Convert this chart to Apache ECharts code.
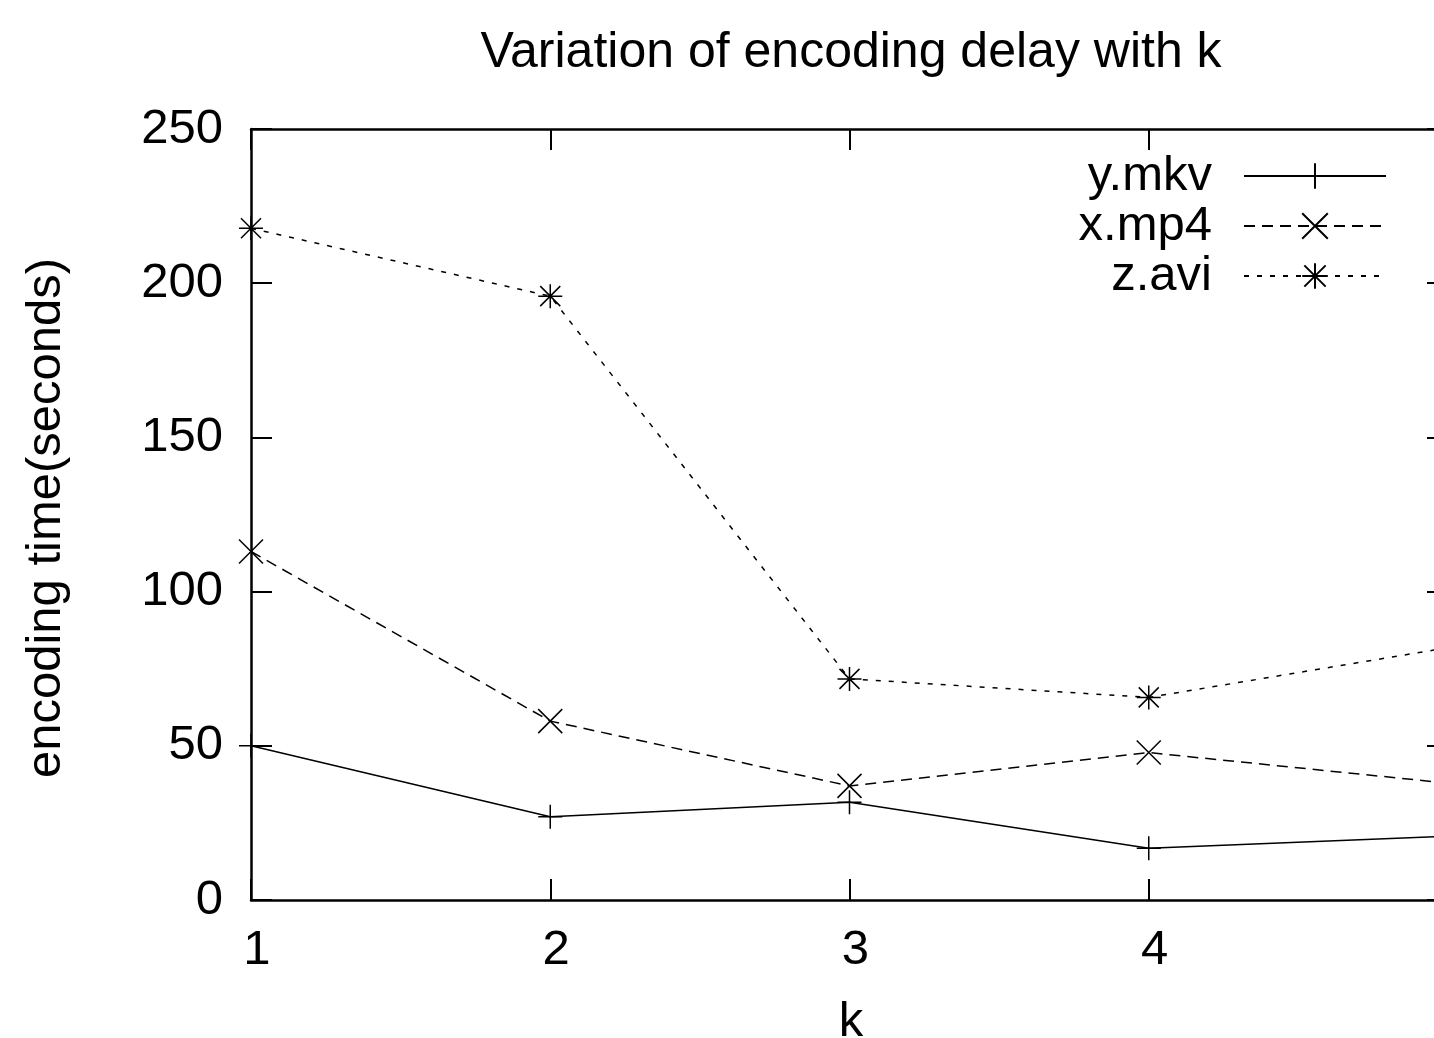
<!DOCTYPE html>
<html>
<head>
<meta charset="utf-8">
<script src="https://cdn.jsdelivr.net/npm/echarts@6/dist/echarts.min.js"></script>
<style>
html,body{margin:0;padding:0;background:#fff;}
#chart{width:1434px;height:1038px;}
</style>
</head>
<body>
<div id="chart"></div>
<script>
const kValues = [1, 2, 3, 4, 5];
const yTicks = [0, 50, 100, 150, 200, 250];
const seriesNames = ['y.mkv', 'x.mp4', 'z.avi'];
const mkvValues = [50, 27, 31.7, 16.8, 20.7];
const mp4Values = [113, 58, 37, 47.8, 37.9];
const aviValues = [217.8, 195.8, 71.7, 65.7, 81.8];

const FONT = '"Liberation Sans", Arial, Helvetica, sans-serif';
const PLUS = 'path://M12,0L12,24M0,12L24,12';
const CROSS = 'path://M0,0L24,24M0,24L24,0';
const STAR = 'path://M12,0L12,24M0,12L24,12M2,2L22,22M2,22L22,2';

function pairs(vals) { return kValues.map((k, i) => [k, vals[i]]); }

const chart = echarts.init(document.getElementById('chart'), null, {renderer: 'canvas'});

const axisLine = {show: true, onZero: false, lineStyle: {color: '#000', width: 2.5}};
const axisTick = {show: true, inside: true, length: 21, lineStyle: {color: '#000', width: 2}};

function mkSeries(name, vals, symbol, dash) {
  return {
    name: name,
    type: 'line',
    data: pairs(vals),
    symbol: symbol,
    symbolSize: 24,
    showAllSymbol: true,
    animation: false,
    lineStyle: {color: '#000', width: 1.5, type: dash},
    itemStyle: {color: '#000', borderColor: '#000', borderWidth: 1.5},
    emphasis: {disabled: true}
  };
}

const option = {
  backgroundColor: '#fff',
  animation: false,
  grid: {left: 251, top: 129, width: 1197, height: 771, containLabel: false, outerBoundsMode: 'none'},
  xAxis: [
    {type: 'value', min: 1, max: 5, interval: 1, position: 'bottom',
     axisLine: axisLine, axisTick: axisTick, splitLine: {show: false},
     axisLabel: {show: true, margin: 26, fontSize: 49, fontFamily: FONT, color: '#000', padding: [0, 0, 0, 12]}},
    {type: 'value', min: 1, max: 5, interval: 1, position: 'top',
     axisLine: axisLine, axisTick: axisTick, splitLine: {show: false},
     axisLabel: {show: false}}
  ],
  yAxis: [
    {type: 'value', min: 0, max: 250, interval: 50, position: 'left',
     axisLine: axisLine, axisTick: axisTick, splitLine: {show: false},
     axisLabel: {show: true, margin: 28, fontSize: 49, fontFamily: FONT, color: '#000',
       formatter: v => yTicks.includes(v) ? String(v) : ''}},
    {type: 'value', min: 0, max: 250, interval: 50, position: 'right',
     axisLine: axisLine, axisTick: axisTick, splitLine: {show: false},
     axisLabel: {show: false}}
  ],
  legend: {
    orient: 'vertical', right: 47, top: 151, align: 'right',
    itemWidth: 142, itemHeight: 32, itemGap: 0, padding: 0,
    selectedMode: false,
    data: seriesNames,
    textStyle: {fontSize: 49, fontFamily: FONT, color: '#000', lineHeight: 50, padding: [0, 27, 0, 0]}
  },
  graphic: [
    {type: 'text', x: 851, y: 53, style: {text: 'Variation of encoding delay with k', font: '50px ' + FONT, fill: '#000', textAlign: 'center', textVerticalAlign: 'middle'}},
    {type: 'text', x: 46, y: 518, rotation: Math.PI / 2, style: {text: 'encoding time(seconds)', font: '49px ' + FONT, fill: '#000', textAlign: 'center', textVerticalAlign: 'middle'}},
    {type: 'text', x: 851, y: 1022, style: {text: 'k', font: '49px ' + FONT, fill: '#000', textAlign: 'center', textVerticalAlign: 'middle'}}
  ],
  series: [
    mkSeries(seriesNames[0], mkvValues, PLUS, 'solid'),
    mkSeries(seriesNames[1], mp4Values, CROSS, [11, 7]),
    mkSeries(seriesNames[2], aviValues, STAR, [5, 8])
  ]
};
chart.setOption(option);
</script>
</body>
</html>
